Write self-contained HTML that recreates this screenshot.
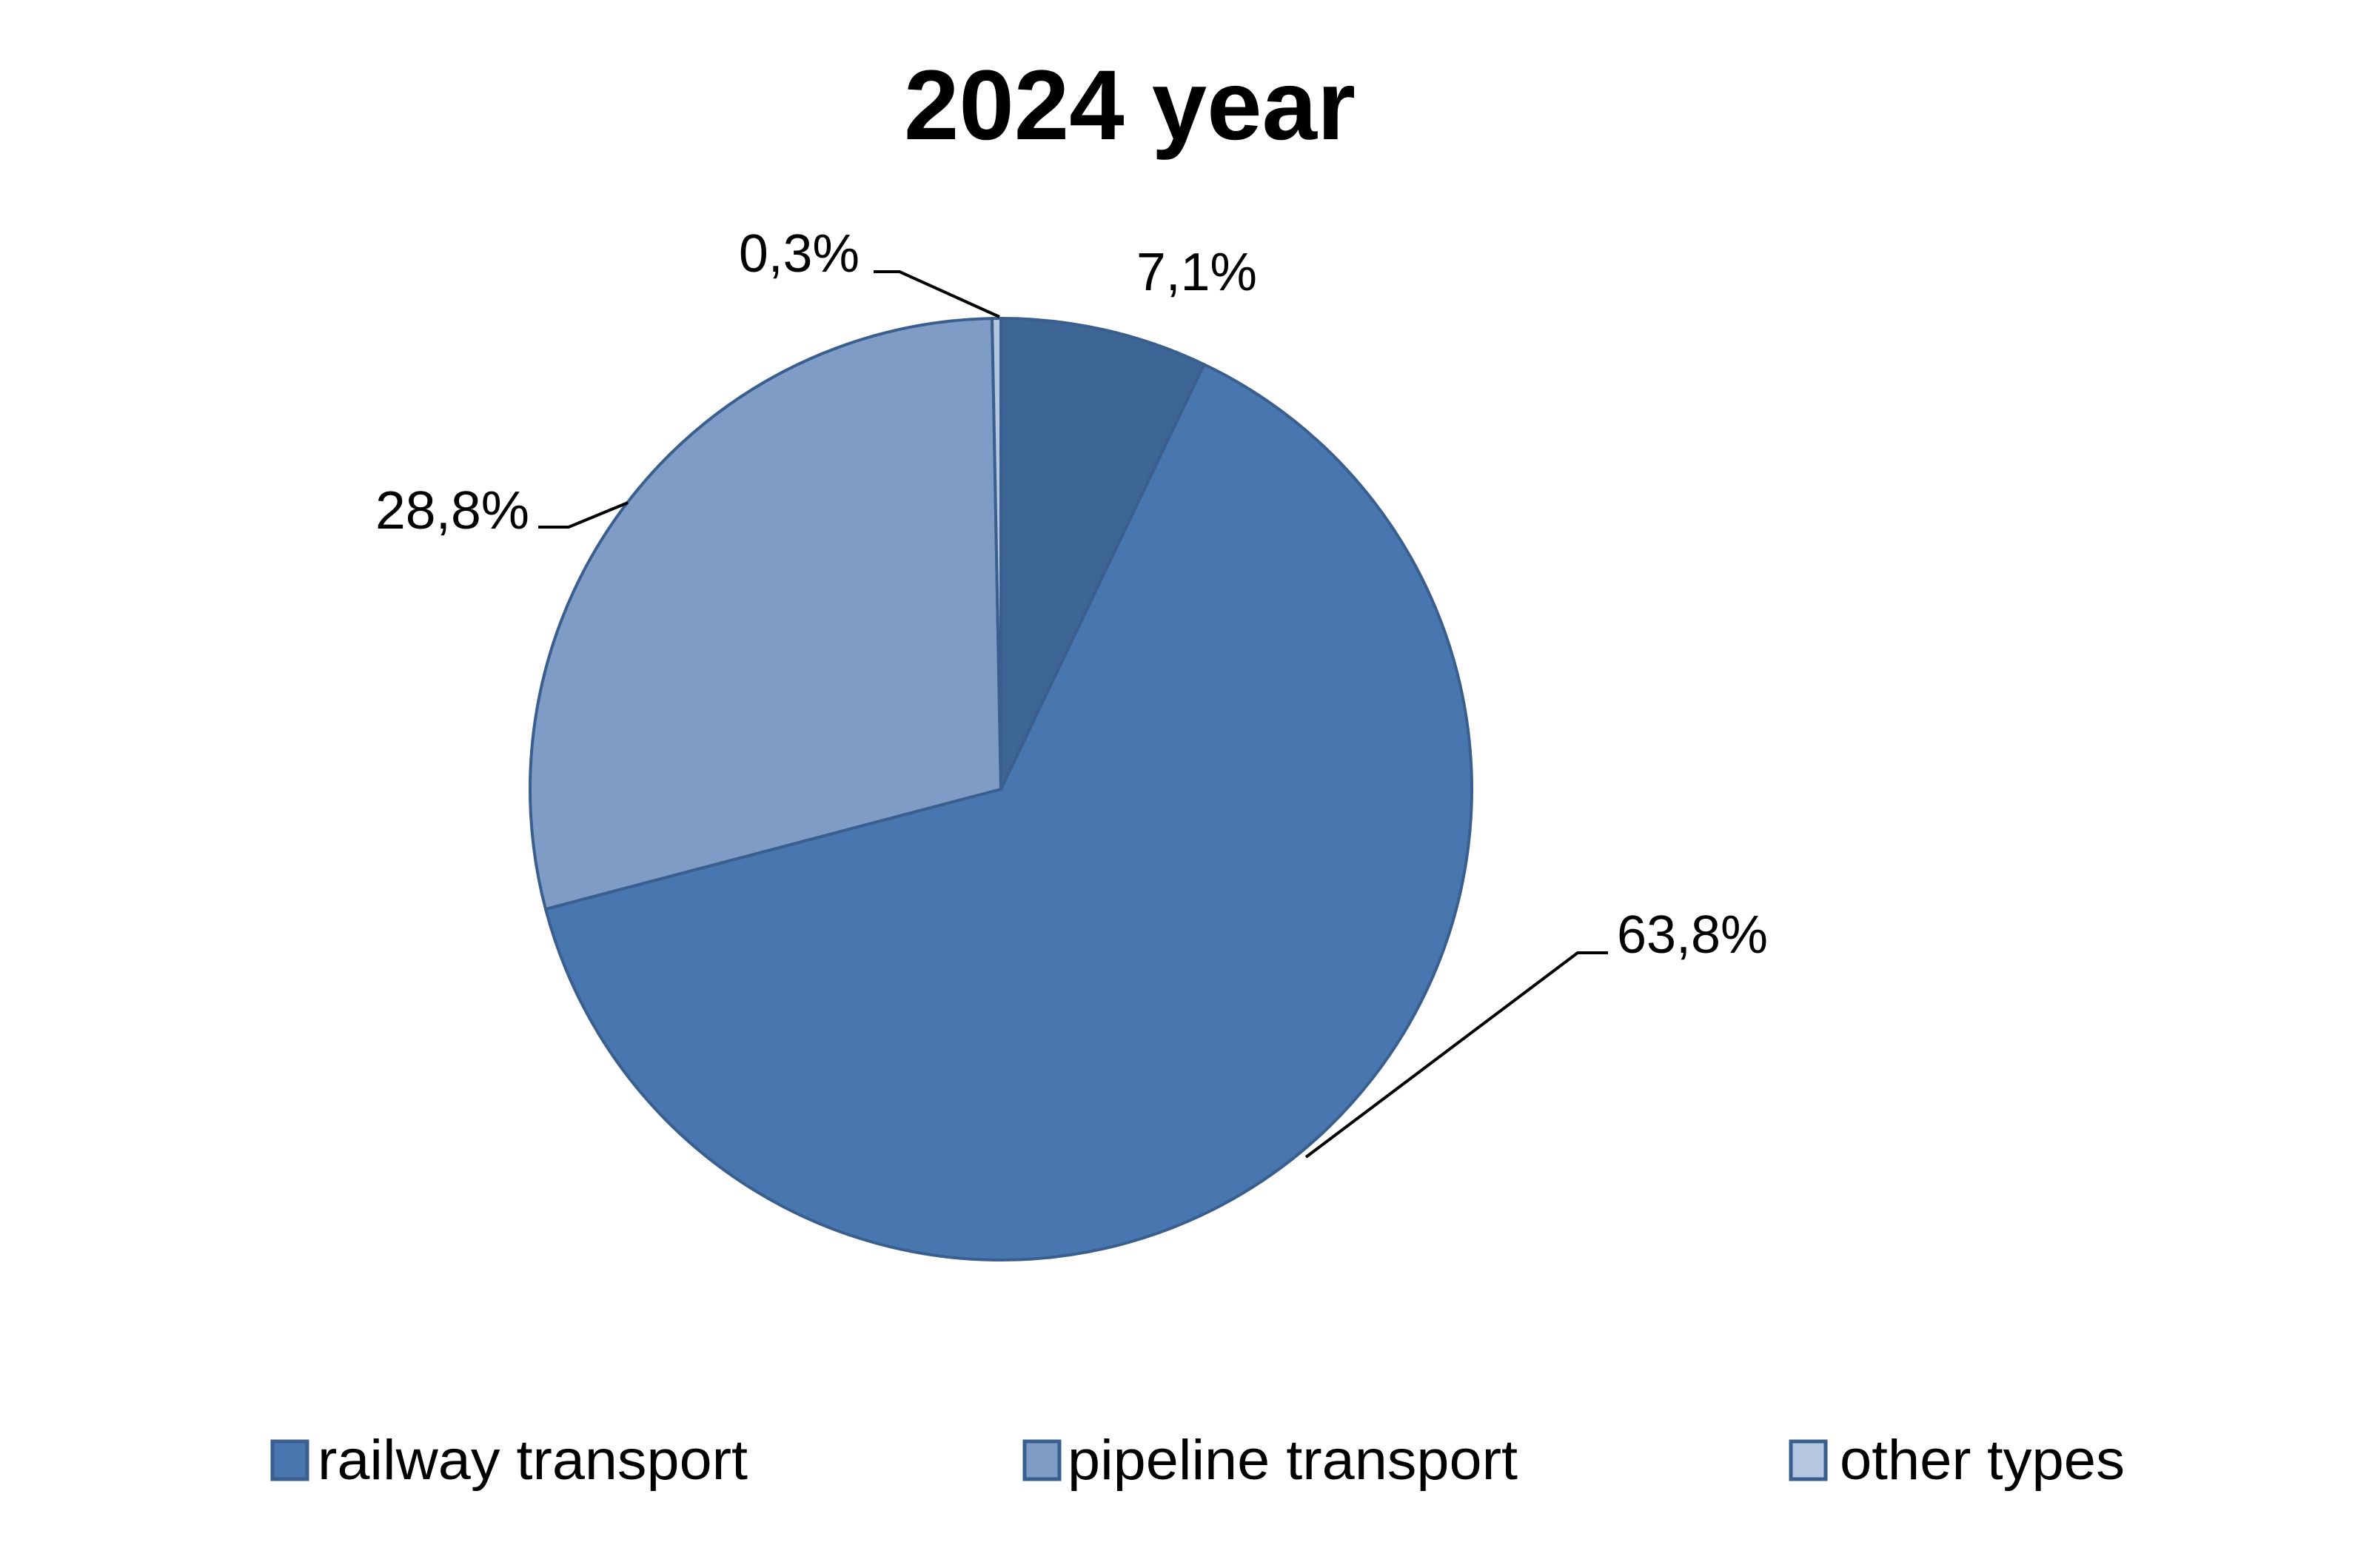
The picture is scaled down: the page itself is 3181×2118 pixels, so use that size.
<!DOCTYPE html>
<html><head><meta charset="utf-8"><style>html,body{margin:0;padding:0;background:#fff}</style></head>
<body>
<svg width="3181" height="2113" viewBox="0 0 3181 2113" xmlns="http://www.w3.org/2000/svg" font-family="Liberation Sans, sans-serif">
<rect width="3181" height="2113" fill="#fff"/>
<text x="1526" y="188" font-size="134" font-weight="bold" text-anchor="middle" textLength="610" lengthAdjust="spacingAndGlyphs">2024 year</text>
<g stroke="#3a5f8f" stroke-width="4" stroke-linejoin="round">
<path id="s1" fill="#3d6596"/>
<path id="s2" fill="#4877b0"/>
<path id="s3" fill="#7f9cc6"/>
<path id="s4" fill="#b4c6e0"/>
</g>
<script>
var cx=1352,cy=1066,r=636;
var v=[7.1,63.8,28.8,0.3],a=0,ids=['s1','s2','s3','s4'];
function pt(t){var q=t/100*2*Math.PI;return [cx+r*Math.sin(q),cy-r*Math.cos(q)];}
for(var i=0;i<4;i++){var p0=pt(a),p1=pt(a+v[i]);var lg=v[i]>50?1:0;
document.getElementById(ids[i]).setAttribute('d','M'+cx+','+cy+'L'+p0[0]+','+p0[1]+'A'+r+','+r+' 0 '+lg+' 1 '+p1[0]+','+p1[1]+'Z');a+=v[i];}
</script>
<g stroke="#000" stroke-width="4" fill="none">
<polyline points="1180,367 1215,367 1350,428"/>
<polyline points="727,712 768,712 848,679"/>
<polyline points="2172,1287 2131,1287 1764,1563"/>
</g>
<g font-size="72" fill="#000">
<text x="1535" y="392" textLength="163" lengthAdjust="spacingAndGlyphs">7,1%</text>
<text x="998" y="367" textLength="163" lengthAdjust="spacingAndGlyphs">0,3%</text>
<text x="507" y="714" textLength="208" lengthAdjust="spacingAndGlyphs">28,8%</text>
<text x="2184" y="1287" textLength="204" lengthAdjust="spacingAndGlyphs">63,8%</text>
</g>
<g stroke="#3a5f8f" stroke-width="5">
<rect x="368" y="1947" width="47" height="51" fill="#4877b0"/>
<rect x="1384" y="1947" width="47" height="51" fill="#7f9cc6"/>
<rect x="2419" y="1947" width="47" height="51" fill="#b4c6e0"/>
</g>
<g font-size="76" fill="#000">
<text x="429" y="1998" textLength="581" lengthAdjust="spacingAndGlyphs">railway transport</text>
<text x="1442" y="1998" textLength="608" lengthAdjust="spacingAndGlyphs">pipeline transport</text>
<text x="2485" y="1998" textLength="385" lengthAdjust="spacingAndGlyphs">other types</text>
</g>
</svg>
</body></html>
